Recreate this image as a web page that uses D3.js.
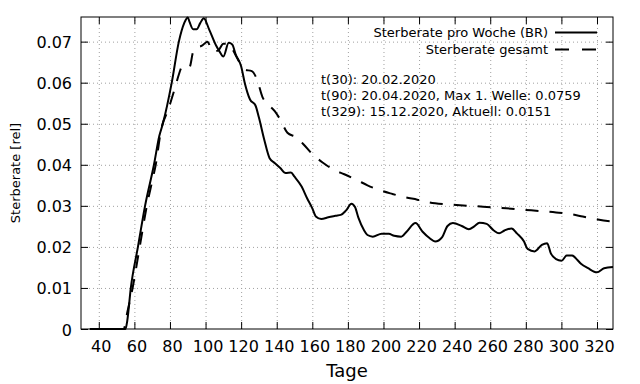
<!DOCTYPE html>
<html>
<head>
<meta charset="utf-8">
<script src="https://cdn.jsdelivr.net/npm/d3@7"></script>
<style>
  html, body { margin: 0; padding: 0; background: #fff; }
  svg { display: block; font-family: "DejaVu Sans", sans-serif; }
</style>
</head>
<body>
<svg id="mainsvg" width="640" height="384"></svg>
<script>
// Sterberate pro Woche (BR): Tag / Wert
const brDays = [35, 55, 56, 58, 62, 66, 71, 74, 76, 81, 85, 88, 90, 91, 93, 95, 97, 99, 102, 106,
  108, 110, 113, 115, 117, 120, 122, 125, 128, 130, 133, 136, 139, 142, 145, 148, 150, 154, 157, 160,
  162, 165, 169, 173, 176, 179, 182, 184, 186, 189, 191, 194, 199, 203, 206, 210, 213, 218, 222, 226,
  229, 233, 236, 239, 244, 248, 251, 254, 258, 262, 265, 268, 272, 275, 279, 281, 285, 289, 292, 294,
  297, 300, 303, 306, 309, 311, 315, 320, 324, 329];
const brValues = [0, 0, 0.002, 0.01, 0.02, 0.03, 0.04, 0.047, 0.05, 0.06, 0.07, 0.0745, 0.0759, 0.0748, 0.073, 0.073, 0.0745, 0.0757, 0.073, 0.069,
  0.0675, 0.0664, 0.0697, 0.0693, 0.0668, 0.064, 0.06, 0.0559, 0.0545, 0.0515, 0.0461, 0.0416, 0.0404, 0.0392, 0.038, 0.0381, 0.0371, 0.0347, 0.0319, 0.0294,
  0.0274, 0.0268, 0.0272, 0.0276, 0.0278, 0.0289, 0.0305, 0.0297, 0.027, 0.0241, 0.0229, 0.0225, 0.0232, 0.0232, 0.0227, 0.0225, 0.0237, 0.0258, 0.0237, 0.0221,
  0.0213, 0.0224, 0.0251, 0.0258, 0.0251, 0.0243, 0.025, 0.0259, 0.0256, 0.024, 0.0233, 0.024, 0.0245, 0.0233, 0.0213, 0.0195, 0.0189, 0.0205, 0.0209, 0.0185,
  0.017, 0.0166, 0.0179, 0.0179, 0.0168, 0.0159, 0.0148, 0.0138, 0.0148, 0.0151];

// Sterberate gesamt
const totalDays = [35, 54, 56, 59, 63, 67, 70, 72, 75, 79, 83, 85, 87, 91, 93, 95, 98, 101, 104, 107,
  110, 113, 116, 119, 122, 126, 129, 132, 135, 139, 142, 146, 151, 155, 160, 166, 172, 178, 185, 191,
  198, 205, 212, 219, 226, 234, 241, 256, 269, 283, 297, 305, 312, 319, 326, 329];
const totalValues = [0, 0, 0.004, 0.01, 0.02, 0.03, 0.036, 0.04, 0.0485, 0.0534, 0.059, 0.062, 0.064, 0.0638, 0.0675, 0.0685, 0.069, 0.07, 0.0676, 0.0678,
  0.0695, 0.0695, 0.0675, 0.065, 0.0632, 0.0628, 0.0607, 0.0565, 0.0548, 0.053, 0.051, 0.0478, 0.0467, 0.045, 0.0426, 0.0405, 0.0388, 0.0377, 0.0363, 0.035,
  0.0338, 0.0329, 0.0321, 0.0315, 0.0308, 0.0304, 0.0302, 0.0298, 0.0294, 0.0289, 0.0284, 0.028, 0.0274, 0.0268, 0.0263, 0.0262];

const xTicks = [40, 60, 80, 100, 120, 140, 160, 180, 200, 220, 240, 260, 280, 300, 320];
const yTicks = [0, 0.01, 0.02, 0.03, 0.04, 0.05, 0.06, 0.07];
const seriesNames = ['Sterberate pro Woche (BR)', 'Sterberate gesamt'];
const notes = ['t(30): 20.02.2020', 't(90): 20.04.2020, Max 1. Welle: 0.0759', 't(329): 15.12.2020, Aktuell: 0.0151'];

const svg = d3.select('#mainsvg'),
  width = Number(svg.attr('width')),
  height = Number(svg.attr('height')),
  margin = { top: 17, right: 27, bottom: 55, left: 81 },
  innerWidth = width - margin.left - margin.right,
  innerHeight = height - margin.top - margin.bottom;

const g = svg.append('g').attr('transform', `translate(${margin.left},${margin.top})`);

const xScale = d3.scaleLinear().domain([30, 329]).range([0, innerWidth]);
const yScale = d3.scaleLinear().domain([0, 0.076]).range([innerHeight, 0]);

// grid
const gridX = g.append('g').attr('transform', `translate(0,${innerHeight})`)
  .call(d3.axisBottom(xScale).tickValues(xTicks).tickSize(-innerHeight));
const gridY = g.append('g')
  .call(d3.axisLeft(yScale).tickValues(yTicks.slice(1)).tickSize(-innerWidth));
[gridX, gridY].forEach(s => {
  s.select('.domain').remove();
  s.selectAll('text').remove();
  s.selectAll('line').attr('stroke', '#a0a0a0').attr('stroke-dasharray', '1,3');
});

// lines
const line = d3.line().x(d => xScale(d[0])).y(d => yScale(d[1])).curve(d3.curveMonotoneX);
const brData = brDays.map((d, i) => [d, brValues[i]]);
const totalData = totalDays.map((d, i) => [d, totalValues[i]]);

g.append('path').datum(totalData).attr('d', line)
  .attr('fill', 'none').attr('stroke', '#000').attr('stroke-width', 2)
  .attr('stroke-dasharray', '13,11');
g.append('path').datum(brData).attr('d', line)
  .attr('fill', 'none').attr('stroke', '#000').attr('stroke-width', 2);

// axes, ticks inward on all four sides
const fmt = d => d === 0 ? '0' : d3.format('.2f')(d);
const xAxis = g.append('g').attr('transform', `translate(0,${innerHeight})`)
  .call(d3.axisBottom(xScale).tickValues(xTicks).tickSize(-7));
const yAxis = g.append('g')
  .call(d3.axisLeft(yScale).tickValues(yTicks).tickFormat(fmt).tickSize(-7));
const topAxis = g.append('g')
  .call(d3.axisTop(xScale).tickValues(xTicks).tickSize(-7));
const rightAxis = g.append('g').attr('transform', `translate(${innerWidth},0)`)
  .call(d3.axisRight(yScale).tickValues(yTicks).tickSize(-7));
topAxis.selectAll('text').remove();
rightAxis.selectAll('text').remove();
[xAxis, yAxis, topAxis, rightAxis].forEach(s => {
  s.attr('font-size', 16).attr('font-family', '"DejaVu Sans", sans-serif');
  s.selectAll('.domain').remove();
  s.selectAll('line').attr('stroke', '#000');
  s.selectAll('text').attr('fill', '#000');
});
// place labels by baseline
xAxis.selectAll('text').attr('dy', null).attr('x', 2).attr('y', 23);
yAxis.selectAll('text').attr('dy', null).attr('x', -9).attr('y', 6);

g.append('rect').attr('width', innerWidth).attr('height', innerHeight)
  .attr('fill', 'none').attr('stroke', '#000').attr('stroke-width', 1);

// titles
svg.append('text').text('Tage')
  .attr('x', margin.left + innerWidth / 2).attr('y', 377)
  .attr('text-anchor', 'middle').attr('font-size', '18px');
svg.append('text').text('Sterberate [rel]')
  .attr('transform', `translate(20,${margin.top + innerHeight / 2}) rotate(-90)`)
  .attr('text-anchor', 'middle').attr('font-size', '13px');

// legend
const legend = svg.append('g');
seriesNames.forEach((name, i) => {
  const y = 37 + i * 17;
  legend.append('text').text(name)
    .attr('x', 548).attr('y', y).attr('text-anchor', 'end').attr('font-size', '13px');
  legend.append('line')
    .attr('x1', 555).attr('x2', 597).attr('y1', y - 4.5).attr('y2', y - 4.5)
    .attr('stroke', '#000').attr('stroke-width', 2)
    .attr('stroke-dasharray', i === 1 ? '14,13' : null);
});

// notes
notes.forEach((t, i) => {
  svg.append('text').text(t)
    .attr('x', 321).attr('y', 84 + i * 16).attr('font-size', '13px');
});
</script>
</body>
</html>
